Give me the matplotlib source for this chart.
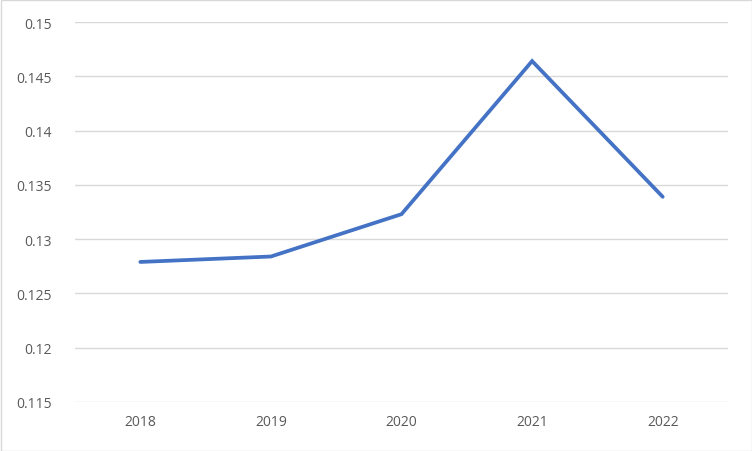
import matplotlib
matplotlib.use("Agg")
import matplotlib.pyplot as plt
from matplotlib.patches import Rectangle

years = ["2018", "2019", "2020", "2021", "2022"]
values = [0.1279, 0.1284, 0.1323, 0.1464, 0.1339]
yticks = [0.115, 0.12, 0.125, 0.13, 0.135, 0.14, 0.145, 0.15]
ytick_labels = ["0.115", "0.12", "0.125", "0.13", "0.135", "0.14", "0.145", "0.15"]

plt.rcParams['font.family'] = ['Open Sans', 'DejaVu Sans']

fig = plt.figure(figsize=(7.52, 4.52), dpi=100)
ax = fig.add_axes([75/752, 1 - 403/452, (728 - 75)/752, (403 - 23)/452])

x = list(range(len(years)))
ax.plot(x, values, color="#4472C4", linewidth=2.7, solid_capstyle="round", solid_joinstyle="miter")
ax.set_xlim(-0.5, len(years) - 0.5)
ax.set_ylim(0.115, 0.15)
ax.set_yticks(yticks)
ax.set_yticklabels(ytick_labels)
ax.set_xticks(x)
ax.set_xticklabels(years)
ax.grid(axis="y", color="#D9D9D9", linewidth=1)
ax.set_axisbelow(True)
for s in ax.spines.values():
    s.set_visible(False)
ax.tick_params(axis="both", length=0, labelsize=10, colors="#595959")
ax.tick_params(axis="y", pad=17)
ax.tick_params(axis="x", pad=9)

fig.patches.append(Rectangle((0.5/752, 0.5/452), 751/752, 451/452, transform=fig.transFigure,
                             fill=False, edgecolor="#D9D9D9", linewidth=1))

fig.savefig("out.png", dpi=100)
